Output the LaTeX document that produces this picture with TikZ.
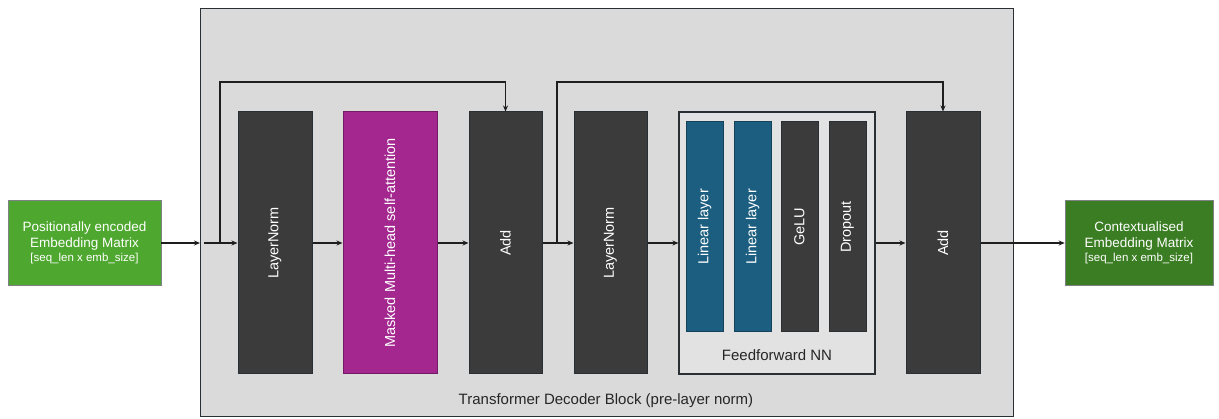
\documentclass[tikz,border=0pt]{standalone}
\usepackage{graphicx}
\usepackage{fontspec}
\setmainfont{Liberation Sans}
\usetikzlibrary{arrows.meta,calc}
\definecolor{blockbg}{HTML}{DADADA}
\definecolor{ffnbg}{HTML}{E2E2E2}
\definecolor{darkblk}{HTML}{3B3B3B}
\definecolor{darkedge}{HTML}{2A2F33}
\definecolor{magblk}{HTML}{A3278F}
\definecolor{blueblk}{HTML}{1B5E80}
\definecolor{greenin}{HTML}{4EA72E}
\definecolor{greenout}{HTML}{3B7D23}
\definecolor{lineclr}{HTML}{1E1E1E}
\newcommand{\vtext}[1]{\rotatebox{90}{#1}}
\tikzset{
  layer/.style={draw=darkedge, line width=1pt, fill=darkblk, minimum width=74pt, minimum height=262pt,
    inner sep=0pt, text=white, font=\fontsize{14.5}{16}\selectfont},
  sublayer/.style={layer, minimum width=37pt, minimum height=210pt},
  iobox/.style={draw=darkedge!60, line width=0.6pt, minimum height=85pt, inner sep=0pt, text=white, align=center,
    font=\fontsize{13.5}{16}\selectfont},
  arr/.style={draw=lineclr, line width=1.1pt, -{Stealth[length=6pt,width=5pt]}},
  ln/.style={draw=lineclr, line width=1.1pt}
}
\begin{document}
\begin{tikzpicture}[x=1pt,y=-1pt]
  \useasboundingbox (0,0) rectangle (1219,419);
  % decoder block frame
  \node[draw=darkedge, line width=1.4pt, fill=blockbg, minimum width=813pt, minimum height=408pt, inner sep=0pt,
        anchor=north west] (blk) at (200,8) {};
  \node[font=\fontsize{15}{17}\selectfont, text=black!85] (blklbl) at (606,401) {Transformer Decoder Block (pre-layer norm)};
  % input and output matrices
  \node[iobox, fill=greenin, minimum width=153pt] (inp) at (84.5,243)
    {Positionally encoded\\Embedding Matrix\\[-2pt]{\fontsize{11.5}{13}\selectfont [seq\_len x emb\_size]}};
  \node[iobox, fill=greenout, minimum width=148pt] (outp) at (1139,243)
    {Contextualised\\Embedding Matrix\\[-2pt]{\fontsize{11.5}{13}\selectfont [seq\_len x emb\_size]}};
  % main layers
  \node[layer] (ln1) at (275,243) {\vtext{LayerNorm}};
  \node[layer, fill=magblk, draw=magblk!70!black, minimum width=94pt] (mha) at (390,243) {\vtext{Masked Multi-head self-attention}};
  \node[layer, minimum width=73pt] (add1) at (505.5,243) {\vtext{Add}};
  \node[layer, minimum width=73pt] (ln2) at (610.5,243) {\vtext{LayerNorm}};
  % feedforward network
  \node[draw=darkedge, line width=1.1pt, fill=ffnbg, minimum width=196pt, minimum height=262pt, inner sep=0pt] (ffn) at (777,243) {};
  \node[sublayer, fill=blueblk, draw=blueblk!70!black] (lin1) at (704.5,227) {\vtext{Linear layer}};
  \node[sublayer, fill=blueblk, draw=blueblk!70!black] (lin2) at (752.5,227) {\vtext{Linear layer}};
  \node[sublayer] (gelu) at (799.5,227) {\vtext{GeLU}};
  \node[sublayer] (drop) at (847.5,227) {\vtext{Dropout}};
  \node[font=\fontsize{15}{17}\selectfont, text=black!85] (ffnlbl) at (777,355) {Feedforward NN};
  \node[layer] (add2) at (943,243) {\vtext{Add}};
  % connectors
  \coordinate (bin) at (blk.west |- inp.east);
  \coordinate (j1) at (220,243);
  \coordinate (t1) at (220,82);
  \coordinate (j2) at (557,243);
  \coordinate (t2) at (557,82);
  \draw[arr] (inp.east) -- (bin);
  \draw[arr] ($(bin)+(4,0)$) -- (ln1.west);
  \draw[arr] (ln1.east) -- (mha.west);
  \draw[arr] (mha.east) -- (add1.west);
  \draw[arr] (add1.east) -- (ln2.west);
  \draw[arr] (ln2.east) -- (ffn.west);
  \draw[arr] (ffn.east) -- (add2.west);
  \draw[arr] (add2.east) -- (outp.west);
  \draw[arr] (j1) -- (t1) -| (add1.north);
  \draw[arr] (j2) -- (t2) -| (add2.north);
\end{tikzpicture}
\end{document}
